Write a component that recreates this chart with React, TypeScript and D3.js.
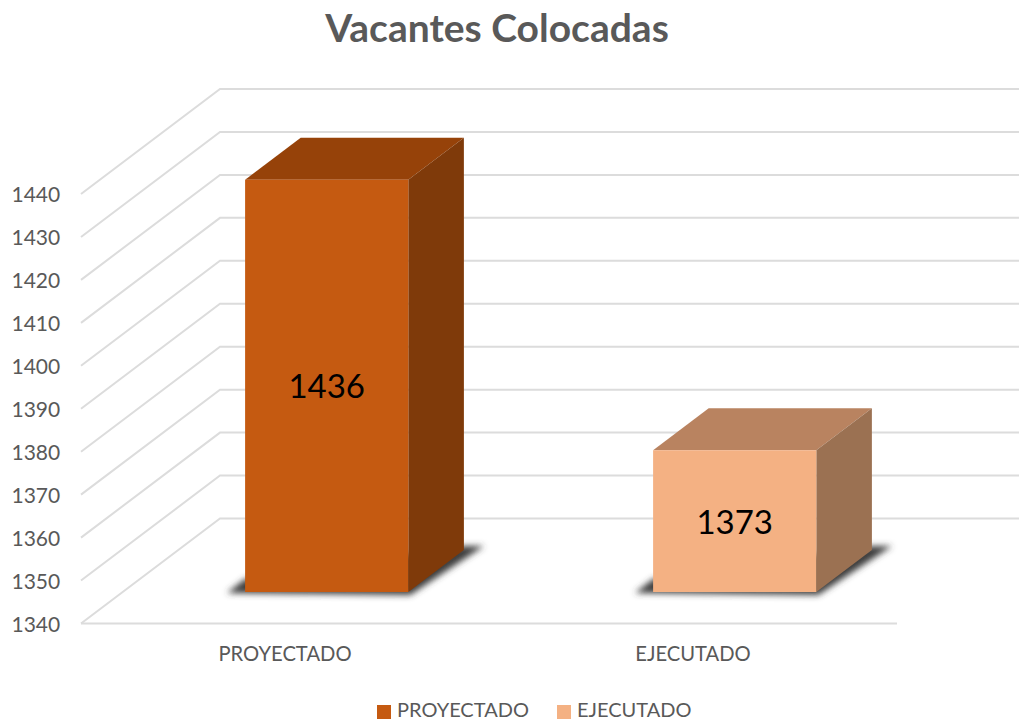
import React from "react";
import * as d3 from "d3";

const title = "Vacantes Colocadas";
const categories = ["PROYECTADO", "EJECUTADO"];
const values = [1436, 1373];
const dataLabels = ["1436", "1373"];
const tickValues = [1340, 1350, 1360, 1370, 1380, 1390, 1400, 1410, 1420, 1430, 1440];
const frontColors = ["#C55A11", "#F4B183"];
const topColors = ["#964209", "#B98360"];
const sideColors = ["#7F3A0A", "#9B7152"];

const FONT = "Lato, 'Open Sans', sans-serif";
const GREY = "#595959";
const W = 1019;
const H = 721;

const y = d3.scaleLinear().domain([1340, 1440]).range([623.5, 194]);
const band = d3.scaleBand<string>().domain(categories).range([81, 897]).paddingInner(0).paddingOuter(0);
const DX = 139;
const DY = -105;
const T0 = 0.3;
const T1 = 0.7;
const BAR_FRAC = 0.4;

const proj = (x: number, v: number, t: number): [number, number] => [x + DX * t, y(v) + DY * t];
const path = (pts: [number, number][]) => d3.line()(pts) + "Z";

export default function App() {
  const floor = y.domain()[0];
  return (
    <svg width={W} height={H} style={{ position: "absolute", left: 0, top: 0, background: "#fff" }}>
      <defs>
        <filter id="sh" x="-20%" y="-50%" width="140%" height="200%">
          <feGaussianBlur stdDeviation="3" />
        </filter>
      </defs>
      <text x={497} y={42} textAnchor="middle" fontFamily={FONT} fontWeight={700} fontSize={39} fill={GREY}>
        {title}
      </text>
      {tickValues.map((t) => {
        const a = proj(81, t, 0);
        const b = proj(81, t, 1);
        return (
          <g key={t}>
            <path d={`M${a[0]},${a[1]}L${b[0]},${b[1]}L${W},${b[1]}`} fill="none" stroke="#dcdcdc" strokeWidth={2} />
            <text x={11.5} y={y(t) + 8} fontFamily={FONT} fontSize={21} fill={GREY}>
              {t}
            </text>
          </g>
        );
      })}
      <line x1={81} x2={897} y1={y(floor)} y2={y(floor)} stroke="#dcdcdc" strokeWidth={2} />
      {categories.map((c, i) => {
        const cx = band(c)! + band.bandwidth() / 2;
        const hw = (band.bandwidth() * BAR_FRAC) / 2;
        const xl = cx - hw;
        const xr = cx + hw;
        const v = values[i];
        const fbl = proj(xl, floor, T0);
        const fbr = proj(xr, floor, T0);
        const ftl = proj(xl, v, T0);
        const ftr = proj(xr, v, T0);
        const bbr = proj(xr, floor, T1);
        const btl = proj(xl, v, T1);
        const btr = proj(xr, v, T1);
        const shadow: [number, number][] = [
          [fbl[0], fbl[1] - 13],
          [fbl[0] - 18, fbl[1] + 1],
          [fbr[0] + 2, fbr[1] + 3],
          [bbr[0] + 20, bbr[1] - 4],
          [bbr[0], bbr[1] - 4],
        ];
        const mid = (y(v) + y(floor)) / 2 + DY * T0;
        return (
          <g key={c}>
            <path d={path(shadow)} fill="#3c3c3c" filter="url(#sh)" />
            <path d={path([ftl, btl, btr, ftr])} fill={topColors[i]} />
            <path d={path([ftr, btr, bbr, fbr])} fill={sideColors[i]} />
            <path d={path([ftl, ftr, fbr, fbl])} fill={frontColors[i]} />
            <text x={(ftl[0] + ftr[0]) / 2} y={mid + 12.5} textAnchor="middle" fontFamily={FONT} fontSize={33} fill="#000">
              {dataLabels[i]}
            </text>
            <text x={cx} y={661} textAnchor="middle" fontFamily={FONT} fontSize={20.2} fill={GREY}>
              {c}
            </text>
          </g>
        );
      })}
      {categories.map((c, i) => {
        const sx = [377, 557][i];
        return (
          <g key={"leg" + c}>
            <rect x={sx} y={705} width={14} height={14} fill={frontColors[i]} />
            <text x={sx + 20} y={717} fontFamily={FONT} fontSize={20} fill={GREY}>
              {c}
            </text>
          </g>
        );
      })}
    </svg>
  );
}
